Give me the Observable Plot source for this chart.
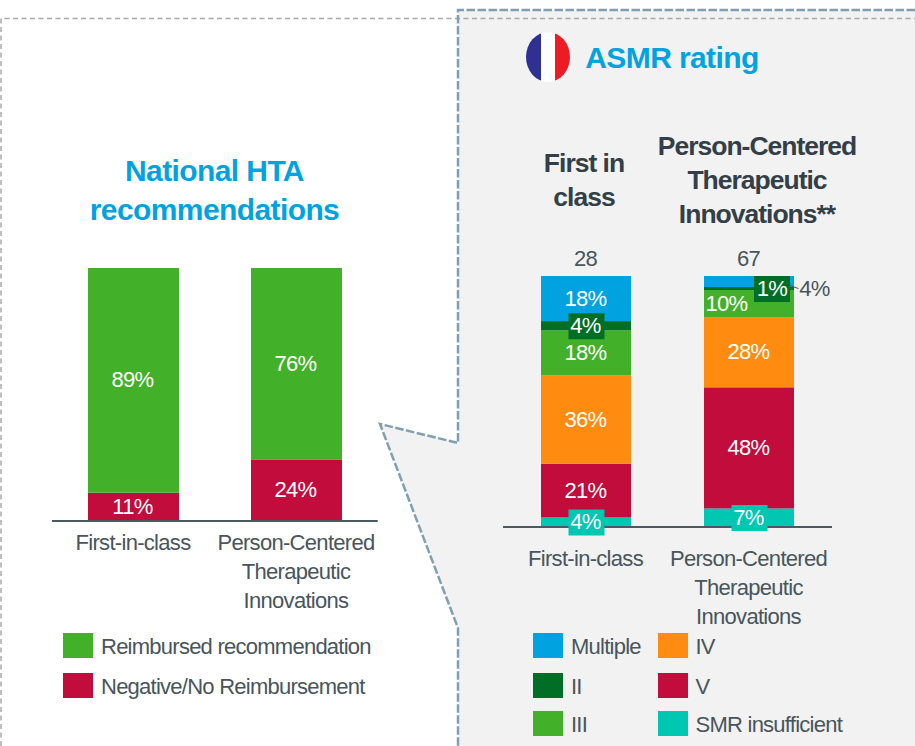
<!DOCTYPE html>
<html>
<head>
<meta charset="utf-8">
<script src="https://cdn.jsdelivr.net/npm/d3@7"></script>
<script src="https://cdn.jsdelivr.net/npm/@observablehq/plot@0.6"></script>
<style>
  html, body { margin: 0; padding: 0; background: #fff; }
  #page { position: relative; width: 915px; height: 746px; overflow: hidden; font-family: "Liberation Sans", Arial, sans-serif; }
  #page > svg, #page > div { position: absolute; }
  .title { color: #00a3e0; font-weight: 700; font-size: 30px; letter-spacing: -0.6px; text-align: center; white-space: pre; }
  .subhead { color: #333f48; font-weight: 700; font-size: 26.5px; letter-spacing: -1px; line-height: 34px; text-align: center; white-space: pre; }
  .legend-item { display: flex; align-items: center; color: #48555c; font-size: 22px; letter-spacing: -0.75px; white-space: pre; height: 26px; }
  .legend-item i { display: block; width: 30px; height: 25px; flex: none; }
  .legend-item span { position: relative; top: 2px; }
</style>
</head>
<body>
<div id="page">
  <svg width="915" height="746" style="left:0;top:0">
    <polygon points="458,10 915,10 915,746 458,746 458,628 380,424 458,443" fill="#f2f2f2"/>
    <path d="M1,746V18.5H915" fill="none" stroke="#a9a9a9" stroke-width="1.5" stroke-dasharray="5 3.5"/>
    <path d="M915,10H458V443L380,424L458,628V746" fill="none" stroke="#7f9fb2" stroke-width="2.5" stroke-dasharray="8.5 2.5"/>
    <defs><clipPath id="flag"><ellipse cx="548" cy="57" rx="22" ry="25"/></clipPath></defs>
    <g clip-path="url(#flag)">
      <rect x="526" y="32" width="15" height="50" fill="#2e3192"/>
      <rect x="541" y="32" width="14" height="50" fill="#ffffff"/>
      <rect x="555" y="32" width="15" height="50" fill="#ed1c24"/>
    </g>
  </svg>
</div>
<script>
const groups = ["First-in-class", "Person-Centered\nTherapeutic\nInnovations"];

// National HTA recommendations
const htaCategories = ["Negative/No Reimbursement", "Reimbursed recommendation"];
const htaColors = ["#c10c3c", "#43b02a"];
const htaNegative = [11, 24];
const htaReimbursed = [89, 76];

// ASMR rating, top of the stack first
const ratings = ["Multiple", "II", "III", "IV", "V", "SMR insufficient"];
const ratingColors = ["#00a3e0", "#006f25", "#43b02a", "#ff8c10", "#c10c3c", "#00c7b1"];
// printed labels
const asmrFirstLabels = [18, 4, 18, 36, 21, 4];
const asmrPersonLabels = [4, 1, 10, 28, 48, 7];
// segment shares
const asmrFirst = [18, 3.7, 18, 35.2, 21.5, 3.6];
const asmrPerson = [4.4, 1.2, 10.8, 28, 48.3, 7.2];
const asmrTotals = [28, 67];

const htaRows = [];
groups.forEach((group, i) => {
  htaRows.push({group, rating: htaCategories[0], value: htaNegative[i], label: htaNegative[i]});
  htaRows.push({group, rating: htaCategories[1], value: htaReimbursed[i], label: htaReimbursed[i]});
});
const asmrRows = [];
[[asmrFirst, asmrFirstLabels], [asmrPerson, asmrPersonLabels]].forEach(([series, labels], g) => {
  for (let i = ratings.length - 1; i >= 0; --i) {
    asmrRows.push({group: groups[g], rating: ratings[i], value: series[i], label: labels[i]});
  }
});
const totalRows = groups.map((group, i) => ({group, total: asmrTotals[i]}));

const stacked = (test, extra) => Plot.filter(test, Plot.stackY({
  x: "group", y: "value", z: "rating", offset: "normalize", ...extra
}));
const pct = d => d.label + "%";
const FONT = "22px 'Liberation Sans', Arial, sans-serif";
const box = {draw(ctx) { ctx.rect(-18, -13, 36, 26); }};
const leader = {draw(ctx) { ctx.moveTo(-5, -1.5); ctx.lineTo(4, 1.5); }};
const isFirst = d => d.group === groups[0];
const isPerson = d => d.group === groups[1];

const htaPlot = Plot.plot({
  width: 458, height: 630,
  marginLeft: 52, marginRight: 80.3, marginTop: 268, marginBottom: 109.5,
  style: {background: "transparent", font: FONT, letterSpacing: "-0.7px"},
  x: {domain: groups, paddingInner: 0.4417, paddingOuter: 0.219, axis: null},
  y: {domain: [0, 1], axis: null},
  color: {domain: htaCategories, range: htaColors},
  marks: [
    Plot.barY(htaRows, {x: "group", y: "value", z: "rating", fill: "rating", offset: "normalize"}),
    Plot.text(htaRows, stacked(() => true, {text: pct, fill: "white", dx: -1.5, dy: -0.5})),
    Plot.ruleY([0], {stroke: "#4a5a63", strokeWidth: 2}),
    Plot.axisX({tickSize: 0, tickPadding: 8, lineHeight: 1.32, fill: "#48555c", label: null, dx: -1})
  ]
});
htaPlot.style.left = "0px"; htaPlot.style.top = "0px";

const asmrPlot = Plot.plot({
  width: 457, height: 630,
  marginLeft: 45, marginRight: 83, marginTop: 276, marginBottom: 103.5,
  style: {background: "transparent", font: FONT, letterSpacing: "-0.7px"},
  x: {domain: groups, paddingInner: 0.445, paddingOuter: 0.2256, axis: null},
  y: {domain: [0, 1], axis: null},
  color: {domain: ratings, range: ratingColors},
  marks: [
    Plot.barY(asmrRows, {x: "group", y: "value", z: "rating", fill: "rating", offset: "normalize"}),
    Plot.ruleY([0], {stroke: "#4a5a63", strokeWidth: 2}),
    // label chips for the thin segments
    Plot.dot(asmrRows, stacked(d => d.rating === "SMR insufficient" || (d.rating === "II" && isFirst(d)), {fill: "rating", stroke: "none", symbol: box})),
    Plot.dot(asmrRows, stacked(d => d.rating === "II" && isPerson(d), {fill: "rating", stroke: "none", symbol: box, dx: 22.5})),
    // labels inside the stacks
    Plot.text(asmrRows, stacked(d => isFirst(d) || ["IV", "V", "SMR insufficient"].includes(d.rating), {text: pct, fill: "white", dx: -1, dy: -0.5})),
    Plot.text(asmrRows, stacked(d => isPerson(d) && d.rating === "III", {text: pct, fill: "white", dx: -23})),
    Plot.text(asmrRows, stacked(d => isPerson(d) && d.rating === "II", {text: pct, fill: "white", dx: 22.5})),
    // the outside label and its leader
    Plot.text(asmrRows, stacked(d => isPerson(d) && d.rating === "Multiple", {text: pct, fill: "#48555c", dx: 65, dy: 7})),
    Plot.dot(asmrRows, stacked(d => isPerson(d) && d.rating === "Multiple", {stroke: "#48555c", strokeWidth: 1, fill: "none", symbol: leader, dx: 45, dy: 5})),
    // totals over the stacks
    Plot.text(totalRows, {x: "group", y: () => 1, text: "total", fill: "#48555c", dy: -18, dx: -1}),
    Plot.axisX({tickSize: 0, tickPadding: 18.5, lineHeight: 1.32, fill: "#48555c", label: null, dx: -1})
  ]
});
asmrPlot.style.left = "458px"; asmrPlot.style.top = "0px";

const page = document.getElementById("page");
page.append(htaPlot, asmrPlot);

function addText(cls, text, cx, top) {
  const el = document.createElement("div");
  el.className = cls;
  el.textContent = text;
  el.style.left = (cx - 200) + "px";
  el.style.width = "400px";
  el.style.top = top + "px";
  page.append(el);
  return el;
}
const hta = addText("title", "National HTA\nrecommendations", 214.5, 151);
hta.style.lineHeight = "39px";
const asmrTitle = addText("title", "ASMR rating", 672, 42);
asmrTitle.style.lineHeight = "32px";
addText("subhead", "First in\nclass", 584, 146);
addText("subhead", "Person-Centered\nTherapeutic\nInnovations**", 757, 129);

function addLegend(label, color, x, y, gap) {
  const el = document.createElement("div");
  el.className = "legend-item";
  el.style.left = x + "px";
  el.style.top = y + "px";
  const sw = document.createElement("i");
  sw.style.background = color;
  sw.style.marginRight = gap + "px";
  const txt = document.createElement("span");
  txt.textContent = label;
  el.append(sw, txt);
  page.append(el);
}
addLegend(htaCategories[1], htaColors[1], 63, 632, 8);
addLegend(htaCategories[0], htaColors[0], 63, 672, 8);
ratings.forEach((r, i) => {
  const col = i < 3 ? 0 : 1;
  const row = i % 3;
  addLegend(r, ratingColors[i], col ? 657.5 : 533, [632, 672, 710][row], 8);
});
</script>
</body>
</html>
